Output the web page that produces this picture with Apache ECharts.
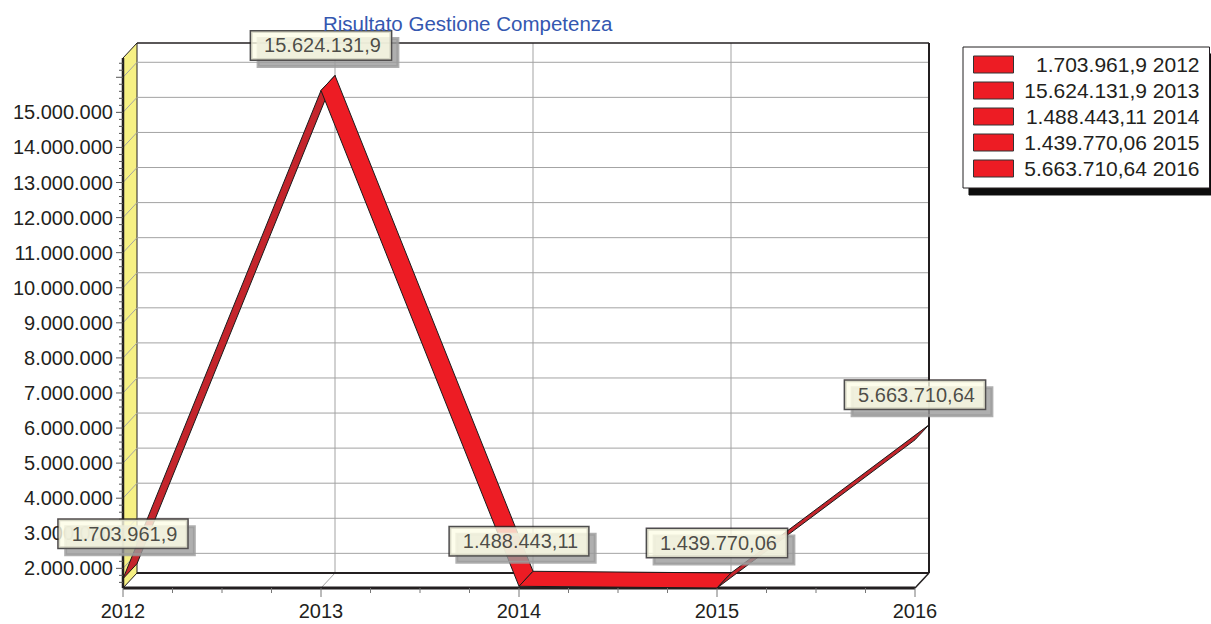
<!DOCTYPE html>
<html>
<head>
<meta charset="utf-8">
<script src="https://cdn.jsdelivr.net/npm/echarts@6/dist/echarts.min.js"></script>
<style>
html, body { margin: 0; padding: 0; background: #fff; }
#chart { width: 1211px; height: 624px; }
</style>
</head>
<body>
<div id="chart"></div>
<script>
// dati
var anni = ['2012', '2013', '2014', '2015', '2016'];
var valori = [1703961.9, 15624131.9, 1488443.11, 1439770.06, 5663710.64];
var etichette = ['1.703.961,9', '15.624.131,9', '1.488.443,11', '1.439.770,06', '5.663.710,64'];
var tickY = [2000000, 3000000, 4000000, 5000000, 6000000, 7000000, 8000000,
   9000000, 10000000, 11000000, 12000000, 13000000, 14000000, 15000000];
var griglia = tickY.concat([16000000]);
var yMin = 1439770.06;
var yMax = 16550000;

// profondità 3D in pixel
var DX = 14, DY = -15;
var nero = '#231f20';

function fmt(v) {
   return String(v).replace(/\B(?=(\d{3})+(?!\d))/g, '.');
}

function linea(x1, y1, x2, y2, colore, spessore) {
   return {
      type: 'line', silent: true,
      shape: { x1: x1, y1: y1, x2: x2, y2: y2 },
      style: { stroke: colore, lineWidth: spessore || 1 }
   };
}

// pareti, pavimento, griglia e tacche
function disegnaCornice(params, api) {
   var bl = api.coord([0, yMin]);
   var tl = api.coord([0, yMax]);
   var br = api.coord([anni.length - 1, yMin]);
   var L = bl[0], R = br[0], B = bl[1], T = tl[1];
   var ch = [];
   // parete di fondo
   ch.push({ type: 'rect', shape: { x: L + DX, y: T + DY, width: R - L, height: B - T }, style: { fill: '#fff' } });
   // parete sinistra gialla
   ch.push({ type: 'polygon', shape: { points: [[L, B], [L, T], [L + DX, T + DY], [L + DX, B + DY]] },
      style: { fill: '#f6f084', stroke: nero, lineWidth: 1 } });
   // griglia orizzontale
   griglia.forEach(function (v) {
      var y = api.coord([0, v])[1];
      ch.push(linea(L, y, L + DX, y + DY, '#a3a3a3'));
      ch.push(linea(L + DX, y + DY, R + DX, y + DY, '#a3a3a3'));
   });
   // griglia verticale e pavimento
   for (var i = 1; i < anni.length - 1; i++) {
      var x = api.coord([i, yMin])[0];
      ch.push(linea(x + DX, T + DY, x + DX, B + DY, '#a3a3a3'));
      ch.push(linea(x, B, x + DX, B + DY, '#a3a3a3'));
   }
   // bordi
   ch.push(linea(L + DX, B + DY, R + DX, B + DY, nero, 2));
   ch.push(linea(R + DX, T + DY, R + DX, B + DY, nero, 2));
   ch.push(linea(L + DX, T + DY, R + DX, T + DY, nero, 1.5));
   ch.push(linea(R, B, R + DX, B + DY, nero, 1.5));
   ch.push(linea(L, T, L, B, nero, 2.5));
   ch.push(linea(L, B, R, B, nero, 3));
   // tacche asse y
   for (var v = 1600000; v <= 16400000; v += 200000) {
      var yy = api.coord([0, v])[1];
      var maggiore = v % 1000000 === 0;
      ch.push(linea(L - (maggiore ? 7 : 4), yy, L, yy, '#555', 1));
   }
   // tacche asse x
   for (var j = 0; j < anni.length; j++) {
      var x0 = api.coord([j, yMin])[0];
      ch.push(linea(x0, B, x0, B + 9, '#777', 1));
      if (j < anni.length - 1) {
         var x1 = api.coord([j + 1, yMin])[0];
         for (var k = 1; k < 4; k++) {
            var xk = x0 + (x1 - x0) * k / 4;
            ch.push(linea(xk, B, xk, B + 5, '#777', 1));
         }
      }
   }
   return { type: 'group', children: ch };
}

// nastro rosso
var segmenti = [];
for (var s = 0; s < valori.length - 1; s++) {
   segmenti.push([s, valori[s], valori[s + 1]]);
}

function disegnaNastro(params, api) {
   var i = api.value(0);
   var p1 = api.coord([i, api.value(1)]);
   var p2 = api.coord([i + 1, api.value(2)]);
   var sale = api.value(2) > api.value(1);
   return {
      type: 'polygon',
      shape: { points: [p1, p2, [p2[0] + DX, p2[1] + DY], [p1[0] + DX, p1[1] + DY]] },
      style: { fill: sale ? '#c4252c' : '#ed1c24', stroke: '#1a1a1a', lineWidth: 1 }
   };
}

var nomiLegenda = valori.map(function (v, i) { return etichette[i] + ' ' + anni[i]; });

var chart = echarts.init(document.getElementById('chart'), null, { renderer: 'svg' });

var serie = [{
   type: 'custom',
   name: 'cornice',
   z: 1,
   clip: false,
   silent: true,
   data: [[0, yMin]],
   renderItem: disegnaCornice
}, {
   type: 'custom',
   name: 'nastro',
   z: 2,
   clip: false,
   silent: true,
   encode: { x: 0, y: 1 },
   data: segmenti,
   renderItem: disegnaNastro
}, {
   type: 'scatter',
   name: 'etichette',
   z: 5,
   symbolSize: 0,
   silent: true,
   data: valori.map(function (v, i) { return [i, v]; }),
   label: {
      show: true,
      position: 'top',
      distance: 31,
      formatter: function (p) { return etichette[p.dataIndex]; },
      fontSize: 20,
      fontFamily: 'Liberation Sans',
      color: nero,
      backgroundColor: '#fdfde6',
      borderColor: nero,
      borderWidth: 1.5,
      padding: [4, 10, 4, 13],
      shadowColor: '#9b9b9b',
      shadowBlur: 0,
      shadowOffsetX: 7,
      shadowOffsetY: 7
   }
}];

// serie vuote solo per la legenda
nomiLegenda.forEach(function (n) {
   serie.push({ type: 'line', name: n, data: [], itemStyle: { color: '#ed1c24' } });
});

var option = {
   animation: false,
   title: {
      text: 'Risultato Gestione Competenza',
      left: 318,
      top: 8,
      textStyle: { color: '#3457b0', fontSize: 20.5, fontWeight: 'normal', fontFamily: 'Liberation Sans' }
   },
   legend: {
      data: nomiLegenda,
      orient: 'vertical',
      left: 963,
      top: 47,
      padding: [7, 10, 9, 10],
      itemGap: 5,
      itemWidth: 40,
      itemHeight: 17,
      icon: 'rect',
      selectedMode: false,
      backgroundColor: '#fff',
      borderColor: nero,
      borderWidth: 1,
      shadowColor: '#111',
      shadowBlur: 0,
      shadowOffsetX: 6,
      shadowOffsetY: 7,
      itemStyle: { color: '#ed1c24', borderColor: '#333', borderWidth: 1 },
      formatter: function (n) { return '{t|' + n + '}'; },
      textStyle: {
         fontSize: 21, lineHeight: 20, color: nero, fontFamily: 'Liberation Sans',
         rich: { t: { width: 181, align: 'right', fontSize: 21, lineHeight: 20, color: nero, fontFamily: 'Liberation Sans' } }
      }
   },
   grid: { left: 123, top: 58, width: 792, height: 530 },
   xAxis: {
      type: 'category',
      boundaryGap: false,
      data: anni,
      axisLine: { show: false },
      axisTick: { show: false },
      splitLine: { show: false },
      axisLabel: { margin: 13, fontSize: 20, color: nero, fontFamily: 'Liberation Sans' }
   },
   yAxis: {
      type: 'value',
      min: yMin,
      max: yMax,
      axisLine: { show: false },
      axisTick: { show: false },
      splitLine: { show: false },
      axisLabel: {
         customValues: tickY,
         formatter: fmt,
         margin: 10,
         fontSize: 20,
         color: nero,
         fontFamily: 'Liberation Sans'
      }
   },
   series: serie
};

chart.setOption(option);
</script>
</body>
</html>
